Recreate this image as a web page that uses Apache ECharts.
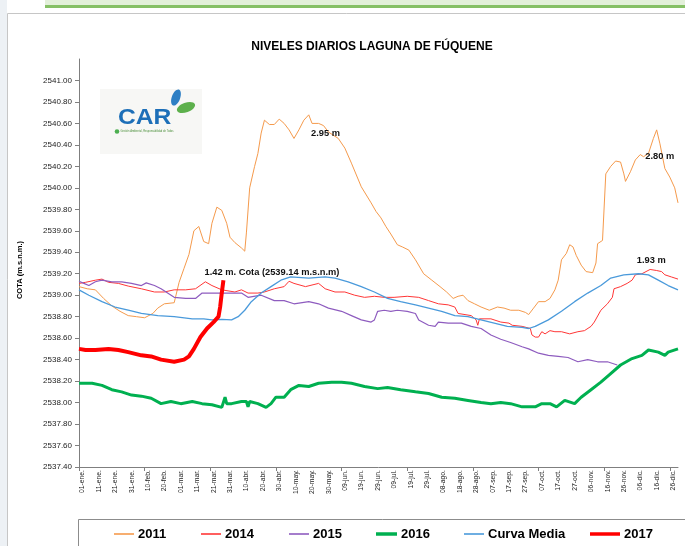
<!DOCTYPE html>
<html><head><meta charset="utf-8">
<script src="https://cdn.jsdelivr.net/npm/echarts@6/dist/echarts.min.js"></script>
<style>html,body{margin:0;padding:0;background:#fff}#c{width:685px;height:546px}</style>
</head><body><div id="c"></div>
<script>
// ---------- DATA ----------
const tickLabels = ['01-ene.','11-ene.','21-ene.','31-ene.','10-feb.','20-feb.','01-mar.','11-mar.','21-mar.','31-mar.','10-abr.','20-abr.','30-abr.','10-may.','20-may.','30-may.','09-jun.','19-jun.','29-jun.','09-jul.','19-jul.','29-jul.','08-ago.','18-ago.','28-ago.','07-sep.','17-sep.','27-sep.','07-oct.','17-oct.','27-oct.','06-nov.','16-nov.','26-nov.','06-dic.','16-dic.','26-dic.'];
const seriesNames = ['2011','2014','2015','2016','Curva Media','2017'];
// [day of year, level m.s.n.m.]
const s2011 = [[0,2539.08],[5,2539.06],[10,2539.05],[15,2538.97],[20,2538.90],[25,2538.85],[30,2538.81],[35,2538.80],[40,2538.79],[45,2538.83],[48,2538.88],[52,2538.92],[58,2538.93],[61,2539.12],[64,2539.25],[67,2539.38],[70,2539.60],[73,2539.64],[76,2539.50],[79,2539.48],[81,2539.67],[84,2539.82],[87,2539.79],[90,2539.67],[92,2539.54],[95,2539.49],[99,2539.44],[101,2539.41],[102,2539.58],[104,2540.00],[107,2540.20],[109,2540.32],[111,2540.51],[113,2540.63],[116,2540.59],[119,2540.59],[122,2540.64],[125,2540.60],[128,2540.54],[131,2540.46],[134,2540.54],[137,2540.63],[140,2540.68],[142,2540.60],[146,2540.60],[149,2540.58],[152,2540.52],[158,2540.46],[162,2540.37],[166,2540.23],[172,2540.01],[178,2539.86],[181,2539.78],[184,2539.72],[187,2539.64],[190,2539.57],[194,2539.47],[197,2539.45],[201,2539.42],[205,2539.33],[210,2539.20],[215,2539.14],[220,2539.08],[224,2539.03],[228,2538.97],[231,2538.99],[234,2539.00],[237,2538.95],[241,2538.92],[245,2538.89],[250,2538.86],[255,2538.89],[259,2538.88],[263,2538.86],[268,2538.86],[272,2538.84],[274,2538.82],[277,2538.88],[280,2538.94],[284,2538.94],[287,2538.97],[290,2539.05],[292,2539.14],[294,2539.33],[297,2539.39],[299,2539.47],[301,2539.45],[303,2539.37],[306,2539.28],[309,2539.22],[313,2539.21],[315,2539.30],[316,2539.48],[319,2539.51],[321,2540.13],[324,2540.20],[327,2540.25],[330,2540.24],[332,2540.13],[333,2540.06],[336,2540.15],[339,2540.26],[342,2540.31],[344,2540.29],[347,2540.32],[350,2540.46],[352,2540.54],[354,2540.41],[357,2540.18],[360,2540.10],[363,2540.00],[365,2539.86]];
const s2014 = [[0,2539.11],[4,2539.12],[10,2539.14],[14,2539.15],[18,2539.12],[24,2539.11],[30,2539.085],[38,2539.06],[46,2539.03],[52,2539.03],[58,2539.05],[65,2539.05],[71,2539.06],[77,2539.125],[81,2539.09],[87,2539.05],[95,2539.03],[99,2539.05],[103,2539.02],[109,2539.02],[113,2539.03],[119,2539.06],[125,2539.08],[128,2539.13],[131,2539.11],[138,2539.08],[146,2539.11],[150,2539.06],[156,2539.03],[162,2539.03],[168,2539.00],[174,2538.98],[180,2538.99],[186,2538.98],[192,2538.98],[200,2538.99],[207,2538.98],[213,2538.95],[219,2538.92],[225,2538.91],[229,2538.89],[231,2538.83],[239,2538.81],[242,2538.77],[243,2538.72],[244,2538.78],[251,2538.78],[257,2538.75],[262,2538.74],[264,2538.72],[270,2538.71],[275,2538.69],[276,2538.63],[278,2538.61],[280,2538.61],[282,2538.66],[284,2538.64],[287,2538.67],[290,2538.66],[294,2538.66],[299,2538.64],[304,2538.66],[308,2538.67],[312,2538.71],[314,2538.75],[318,2538.86],[322,2538.92],[325,2538.98],[326,2539.06],[330,2539.08],[334,2539.11],[337,2539.14],[339,2539.19],[343,2539.20],[348,2539.24],[352,2539.23],[355,2539.22],[357,2539.19],[361,2539.17],[365,2539.15]];
const s2015 = [[0,2539.13],[3,2539.11],[6,2539.09],[10,2539.125],[14,2539.14],[20,2539.125],[26,2539.125],[32,2539.11],[38,2539.09],[41,2539.115],[46,2539.09],[50,2539.06],[54,2539.02],[58,2538.98],[65,2538.97],[71,2538.97],[75,2539.02],[83,2539.02],[93,2539.02],[99,2539.02],[103,2538.98],[111,2539.00],[119,2538.95],[125,2538.95],[131,2538.92],[140,2538.94],[146,2538.92],[152,2538.88],[160,2538.85],[166,2538.81],[172,2538.77],[178,2538.75],[180,2538.77],[182,2538.85],[186,2538.86],[190,2538.85],[194,2538.86],[200,2538.85],[205,2538.83],[207,2538.77],[213,2538.72],[217,2538.71],[219,2538.75],[225,2538.74],[233,2538.74],[239,2538.71],[245,2538.69],[251,2538.63],[257,2538.59],[263,2538.56],[270,2538.52],[274,2538.50],[280,2538.46],[286,2538.44],[292,2538.43],[298,2538.42],[304,2538.38],[310,2538.40],[316,2538.38],[322,2538.38],[328,2538.35]];
const s2016 = [[0,2538.18],[8,2538.18],[14,2538.16],[20,2538.12],[26,2538.10],[32,2538.07],[38,2538.06],[44,2538.04],[50,2537.99],[56,2538.01],[62,2537.99],[69,2538.01],[75,2537.99],[81,2537.98],[87,2537.955],[89,2538.05],[90,2537.99],[93,2537.99],[99,2538.01],[102,2538.01],[103,2537.96],[104,2538.01],[109,2537.99],[114,2537.955],[117,2537.99],[120,2538.05],[125,2538.05],[129,2538.12],[134,2538.16],[140,2538.15],[146,2538.18],[154,2538.19],[160,2538.19],[166,2538.18],[174,2538.15],[182,2538.13],[188,2538.14],[196,2538.12],[205,2538.10],[213,2538.085],[221,2538.05],[229,2538.04],[237,2538.02],[245,2538.00],[251,2537.99],[257,2538.00],[263,2537.99],[270,2537.96],[278,2537.96],[282,2537.99],[287,2537.99],[291,2537.96],[296,2538.02],[302,2537.99],[306,2538.05],[312,2538.12],[318,2538.19],[324,2538.27],[330,2538.35],[337,2538.41],[343,2538.44],[347,2538.49],[353,2538.47],[357,2538.44],[359,2538.47],[365,2538.50]];
const sMedia = [[0,2539.05],[6,2539.00],[14,2538.94],[22,2538.89],[30,2538.86],[38,2538.83],[48,2538.81],[58,2538.80],[69,2538.78],[76,2538.78],[81,2538.77],[87,2538.775],[93,2538.77],[97,2538.80],[101,2538.86],[105,2538.94],[111,2539.02],[117,2539.08],[123,2539.14],[129,2539.17],[140,2539.16],[150,2539.17],[156,2539.16],[164,2539.125],[172,2539.08],[180,2539.03],[188,2538.97],[196,2538.94],[205,2538.91],[213,2538.88],[221,2538.85],[229,2538.81],[237,2538.80],[245,2538.77],[253,2538.74],[261,2538.71],[270,2538.70],[274,2538.69],[278,2538.71],[286,2538.77],[294,2538.85],[302,2538.94],[310,2539.02],[318,2539.09],[324,2539.16],[332,2539.19],[341,2539.20],[347,2539.19],[353,2539.14],[359,2539.09],[365,2539.05]];
const s2017 = [[0,2538.50],[4,2538.49],[10,2538.49],[18,2538.50],[24,2538.49],[30,2538.47],[38,2538.44],[44,2538.43],[50,2538.40],[58,2538.38],[64,2538.40],[67,2538.43],[70,2538.50],[74,2538.61],[78,2538.69],[82,2538.75],[85,2538.80],[86,2538.89],[87,2539.02],[88,2539.14]];
const annotations = ['2.95 m','2.80 m','1.93 m','1.42 m. Cota (2539.14 m.s.n.m)'];
const yMin = 2537.4, yMax = 2541.2, yStep = 0.2;

// ---------- CHART ----------
const chart = echarts.init(document.getElementById('c'), null, {renderer: 'canvas'});
const SANS = '"Liberation Sans",Arial,sans-serif';
const labelDays = tickLabels.map((_, i) => i * 10);
const tickDays = labelDays.filter(d => d % 40 === 0);

const colors = ['#F59A4C', '#FF3636', '#8E5CBF', '#00B050', '#4A9ADB', '#FF0000'];
const widths = [1, 1, 1.2, 3, 1.3, 4];
const datasets = [s2011, s2014, s2015, s2016, sMedia, s2017];
const legendLeft = [114, 201, 289, 376, 464, 590];
const legendIconW = [20, 20, 20, 21, 20, 30];

const series = seriesNames.map((n, i) => ({
  name: n, type: 'line', data: datasets[i], showSymbol: false, symbol: 'none',
  lineStyle: {color: colors[i], width: widths[i]},
  itemStyle: {color: colors[i]}, z: 2 + i
}));

const legends = seriesNames.map((n, i) => ({
  data: [n], left: legendLeft[i], top: 527.5, padding: 0, itemGap: 0,
  icon: 'rect', itemWidth: legendIconW[i], itemHeight: widths[i] >= 3 ? 3.5 : 1.6,
  textStyle: {fontFamily: SANS, fontWeight: 'bold', fontSize: 13, color: '#000', padding: [0, 0, 0, -1]},
  selectedMode: false
}));

const annoStyle = {fontFamily: SANS, fontWeight: 'bold', fontSize: 9.3, fill: '#111', textAlign: 'center', textVerticalAlign: 'middle'};
const annoPos = [[325.5, 133], [659.7, 156.7], [651.3, 260], [272, 272]];

const graphics = [
  // window chrome
  {type: 'rect', shape: {x: 0, y: 0, width: 7, height: 546}, style: {fill: '#EDF1F5'}, silent: true},
  {type: 'rect', shape: {x: 45, y: 0, width: 640, height: 5}, style: {fill: '#E3F0DA'}, silent: true},
  {type: 'rect', shape: {x: 45, y: 5, width: 640, height: 3}, style: {fill: '#86C066'}, silent: true},
  {type: 'line', shape: {x1: 7.5, y1: 13.5, x2: 685, y2: 13.5}, style: {stroke: '#C6C6C6', lineWidth: 1}, silent: true},
  {type: 'line', shape: {x1: 7.5, y1: 13.5, x2: 7.5, y2: 546}, style: {stroke: '#C6C6C6', lineWidth: 1}, silent: true},
  // title
  {type: 'text', x: 372, y: 47, style: {text: 'NIVELES DIARIOS LAGUNA DE FÚQUENE', fontFamily: SANS, fontWeight: 'bold', fontSize: 12, fill: '#000', textAlign: 'center', textVerticalAlign: 'middle'}},
  // y-axis title
  {type: 'text', x: 20, y: 270, rotation: Math.PI / 2, style: {text: 'COTA (m.s.n.m.)', fontFamily: SANS, fontWeight: 'bold', fontSize: 7.5, fill: '#000', textAlign: 'center', textVerticalAlign: 'middle'}},
  // logo
  {type: 'rect', shape: {x: 100, y: 89, width: 102, height: 65}, style: {fill: '#F7F7F5'}, silent: true, z: 0},
  {type: 'text', x: 118, y: 129, scaleX: 1.12, style: {text: 'CAR', fontFamily: SANS, fontWeight: 'bold', fontSize: 22, fill: '#1D6FB8', textVerticalAlign: 'bottom'}, z: 1},
  {type: 'circle', shape: {cx: 117, cy: 131.5, r: 2.3}, style: {fill: '#4CAF50'}, z: 1},
  {type: 'text', x: 120.5, y: 131.5, style: {text: 'Gestión Ambiental, Responsabilidad de Todos', fontFamily: SANS, fontSize: 2.6, fill: '#4A8F3A', textVerticalAlign: 'middle'}, z: 1},
  {type: 'ellipse', x: 176, y: 97.5, rotation: -0.35, shape: {cx: 0, cy: 0, rx: 4.2, ry: 8.5}, style: {fill: '#2E7FC4'}, z: 1},
  {type: 'ellipse', x: 186, y: 107.5, rotation: 0.35, shape: {cx: 0, cy: 0, rx: 9.5, ry: 4.8}, style: {fill: '#5DB04C'}, z: 1},
  // legend frame
  {type: 'rect', shape: {x: 78.5, y: 519.5, width: 620, height: 40}, style: {fill: 'none', stroke: '#8C8C8C', lineWidth: 1}, silent: true}
].concat(annotations.map((t, i) => ({type: 'text', x: annoPos[i][0], y: annoPos[i][1], z: 10, style: Object.assign({text: t}, annoStyle)})));

const option = {
  animation: false,
  backgroundColor: '#fff',
  grid: {left: 79, top: 59, right: 7, bottom: 79, containLabel: false},
  legend: legends,
  xAxis: {
    type: 'value', min: 0, max: 365,
    axisLine: {show: true, lineStyle: {color: '#7F7F7F', width: 1}},
    axisTick: {show: true, length: 4, customValues: tickDays, lineStyle: {color: '#7F7F7F'}},
    axisLabel: {
      show: true, rotate: 90, margin: 3, customValues: labelDays,
      fontFamily: SANS, fontSize: 6.8, color: '#222', verticalAlign: 'top',
      formatter: v => { const i = Math.round(v / 10); return (v % 10 === 0 && tickLabels[i]) ? tickLabels[i] : ''; }
    },
    splitLine: {show: false}
  },
  yAxis: {
    type: 'value', min: yMin, max: yMax, interval: yStep,
    axisLine: {show: true, lineStyle: {color: '#7F7F7F', width: 1}},
    axisTick: {show: true, length: 4, lineStyle: {color: '#7F7F7F'}},
    axisLabel: {margin: 7, fontFamily: SANS, fontSize: 8, color: '#222', showMaxLabel: false, formatter: v => v.toFixed(2)},
    splitLine: {show: false}
  },
  series: series,
  graphic: {elements: graphics}
};
chart.setOption(option);
</script></body></html>
